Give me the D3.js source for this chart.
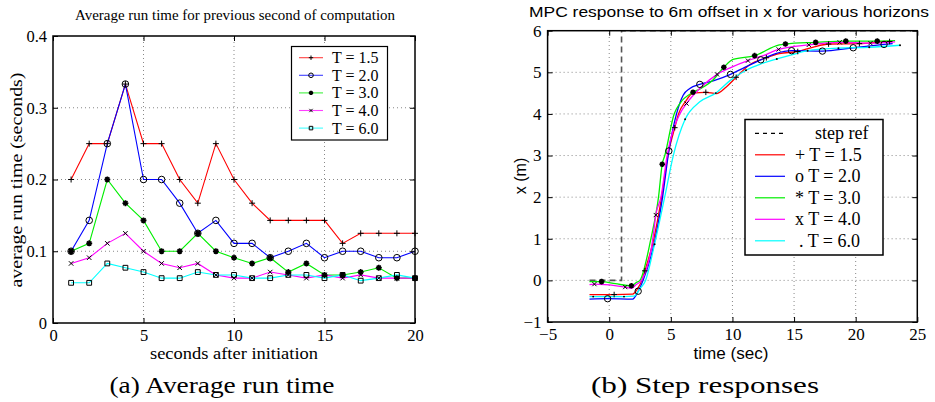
<!DOCTYPE html>
<html><head><meta charset="utf-8">
<script src="https://cdn.jsdelivr.net/npm/d3@7"></script>
<style>body{margin:0;background:#fff}svg{display:block}</style>
</head><body><svg id="c" width="935" height="402"></svg>
<script>
// ---------- Left chart data ----------
const secs = [1,2,3,4,5,6,7,8,9,10,11,12,13,14,15,16,17,18,19,20];
const run15 = [0.2,0.25,0.25,0.333,0.25,0.25,0.2,0.167,0.25,0.2,0.167,0.143,0.143,0.143,0.143,0.111,0.125,0.125,0.125,0.125];
const run20 = [0.1,0.143,0.25,0.333,0.2,0.2,0.167,0.125,0.143,0.111,0.111,0.091,0.1,0.111,0.091,0.1,0.1,0.091,0.091,0.1];
const run30 = [0.1,0.111,0.2,0.167,0.143,0.1,0.1,0.125,0.1,0.091,0.083,0.091,0.071,0.083,0.067,0.067,0.071,0.077,0.0625,0.0625];
const run40 = [0.083,0.091,0.111,0.125,0.1,0.083,0.077,0.083,0.067,0.0625,0.0625,0.071,0.067,0.0625,0.067,0.0625,0.067,0.0625,0.0625,0.0625];
const run60 = [0.056,0.056,0.083,0.077,0.071,0.0625,0.0625,0.071,0.067,0.067,0.0625,0.0625,0.067,0.067,0.0625,0.067,0.059,0.0625,0.067,0.0625];
const leftLabels = ["T = 1.5","T = 2.0","T = 3.0","T = 4.0","T = 6.0"];
const leftXTicks = [0,5,10,15,20];
const leftYTicks = [0,0.1,0.2,0.3,0.4];

// ---------- Right chart data ----------
const refT = [-1.6,1,1,24.5];
const refX = [0,0,6,6];
const t15 = [-1.6,0.4,1.9,2.3,2.65,2.89,3.62,4.25,4.76,5.32,5.62,6.19,6.8,7.84,8.7,9.5,10.3,11.4,12.75,13.8,15.3,16.5,17.8,20.3,22.75,23.0];
const x15 = [-0.34,-0.34,-0.33,-0.2,0,0.23,1.0,2.0,3.0,3.67,4.0,4.3,4.5,4.52,4.49,4.65,4.88,5.18,5.35,5.45,5.5,5.6,5.68,5.69,5.74,5.74];
const t20 = [-1.6,-0.13,1.9,2.35,2.75,3.73,4.33,4.84,5.46,6.0,6.54,7.35,8.5,9.84,11.0,12.3,13.5,14.8,17.3,19.8,22.3,23.0];
const x20 = [-0.45,-0.44,-0.45,-0.26,0,1.0,2.0,3.11,4.0,4.45,4.61,4.71,4.8,4.95,5.12,5.3,5.45,5.52,5.51,5.59,5.67,5.69];
const t30 = [-1.6,-0.62,0.5,1.8,2.2,2.49,3.38,4.0,4.3,4.51,5.27,5.73,6.8,7.35,8.4,9.3,10.05,11.8,13.8,14.3,16.75,19.2,21.75,23.2];
const x30 = [-0.03,-0.03,-0.08,-0.13,-0.05,0,1.0,2.0,2.79,3.0,4.0,4.25,4.52,4.6,4.81,5.12,5.31,5.4,5.66,5.68,5.72,5.75,5.75,5.76];
const t40 = [-1.6,-1.2,1.3,1.8,2.2,2.62,3.54,3.78,4.2,4.7,5.73,6.27,7.35,8.75,9.9,11.26,12.5,13.75,16.2,18.7,21.2,23.2];
const x40 = [-0.1,-0.09,-0.16,-0.19,-0.1,0,1.0,1.57,2.0,3.0,4.0,4.25,4.61,4.95,5.12,5.28,5.4,5.55,5.66,5.72,5.7,5.73];
const t60 = [-1.6,-1.3,1.2,2.0,2.5,2.95,3.68,4.5,5.2,6.16,7.35,8.65,9.8,11.1,12.3,13.6,14.8,16.1,18.6,21.1,23.6];
const x60 = [-0.39,-0.39,-0.39,-0.38,-0.2,0,0.87,2.0,3.0,3.87,4.29,4.5,4.8,5.05,5.2,5.32,5.42,5.52,5.58,5.6,5.65];
// marker positions
const m15t = [0.4,2.89,5.32,7.84,10.3,12.75,15.3,17.8,20.3,22.75];
const m15x = [-0.34,0.23,3.67,4.52,4.88,5.35,5.5,5.68,5.69,5.74];
const m20t = [-0.13,2.35,4.84,7.35,9.84,12.3,14.8,17.3,19.8,22.3];
const m20x = [-0.44,-0.26,3.11,4.71,4.95,5.3,5.52,5.51,5.59,5.67];
const m30t = [-0.62,1.8,4.3,6.8,9.3,11.8,14.3,16.75,19.2,21.75];
const m30x = [-0.03,-0.13,2.79,4.52,5.12,5.4,5.68,5.72,5.75,5.75];
const m40t = [-1.2,1.3,3.78,6.27,8.75,11.26,13.75,16.2,18.7,21.2];
const m40x = [-0.09,-0.16,1.57,4.25,4.95,5.28,5.55,5.66,5.72,5.7];
const m60t = [-1.3,1.2,3.68,6.16,8.65,11.1,13.6,16.1,18.6,21.1,23.6];
const m60x = [-0.39,-0.39,0.87,3.87,4.5,5.05,5.32,5.52,5.58,5.6,5.65];
const rightLabels = ["step ref","+ T = 1.5","o T = 2.0","* T = 3.0","x T = 4.0",". T = 6.0"];
const rightXTicks = [-5,0,5,10,15,20,25];
const rightYTicks = [-1,0,1,2,3,4,5,6];

const colors = ["#ff0000","#0000ff","#00ee00","#ff00ff","#00ffff"];
const markers = ["plus","circle","star","cross","square"];

const svg = d3.select("#c");
const SERIF = "'Liberation Serif','DejaVu Serif',serif";
const SANS = "'Liberation Sans',Arial,sans-serif";

function markerPath(type, s){
  switch(type){
    case "plus": return `M${-s},0H${s}M0,${-s}V${s}`;
    case "cross": return `M${-s*0.75},${-s*0.75}L${s*0.75},${s*0.75}M${-s*0.75},${s*0.75}L${s*0.75},${-s*0.75}`;
    case "circle": return d3.symbol(d3.symbolCircle, Math.PI*s*s)();
    case "square": return `M${-s*0.8},${-s*0.8}h${s*1.6}v${s*1.6}h${-s*1.6}Z`;
    case "star": return `M${-s},0H${s}M0,${-s}V${s}M${-s*0.7},${-s*0.7}L${s*0.7},${s*0.7}M${-s*0.7},${s*0.7}L${s*0.7},${-s*0.7}`;
    case "dot": return d3.symbol(d3.symbolCircle, 3)();
  }
}
function drawMarker(g, type, x, y, s){
  const p = g.append("path").attr("d", markerPath(type, s)).attr("transform",`translate(${x},${y})`)
    .attr("stroke","#000").attr("stroke-width",1);
  if(type==="dot") p.attr("fill","#000").attr("stroke","none");
  else p.attr("fill","none");
  if(type==="star") p.attr("stroke-width",1.6);
}

function frame(g, x, y, xt, yt){
  const [x0,x1] = x.range(), [y0,y1] = y.range();
  const grid = g.append("g").attr("stroke","#888").attr("stroke-width",1).attr("stroke-dasharray","1,3");
  xt.forEach(v=>{ if(x(v)>x0+1 && x(v)<x1-1) grid.append("line").attr("x1",x(v)).attr("x2",x(v)).attr("y1",y0).attr("y2",y1);});
  yt.forEach(v=>{ if(y(v)<y0-1 && y(v)>y1+1) grid.append("line").attr("y1",y(v)).attr("y2",y(v)).attr("x1",x0).attr("x2",x1);});
}
function frameTop(g, x, y, xt, yt, yfmt, tickFont){
  const [x0,x1] = x.range(), [y0,y1] = y.range();
  const ax = d3.axisBottom(x).tickValues(xt).tickSizeInner(-5).tickSizeOuter(0).tickPadding(6).tickFormat(d=>d<0?"\u2212"+Math.abs(d):d);
  const gx = g.append("g").attr("transform",`translate(0,${y0})`).call(ax);
  const axT = d3.axisTop(x).tickValues(xt).tickSizeInner(-5).tickSizeOuter(0).tickFormat("");
  const gxt = g.append("g").attr("transform",`translate(0,${y1})`).call(axT);
  const ay = d3.axisLeft(y).tickValues(yt).tickSizeInner(-5).tickSizeOuter(0).tickPadding(6).tickFormat(yfmt);
  const gy = g.append("g").attr("transform",`translate(${x0},0)`).call(ay);
  const ayR = d3.axisRight(y).tickValues(yt).tickSizeInner(-5).tickSizeOuter(0).tickFormat("");
  const gyr = g.append("g").attr("transform",`translate(${x1},0)`).call(ayR);
  [gx,gxt,gy,gyr].forEach(a=>{ a.select(".domain").remove(); a.selectAll("line").attr("stroke","#000").attr("stroke-width",1);
    a.selectAll("text").attr("font-family",SERIF).attr("font-size",tickFont).attr("fill","#000");});
  g.append("rect").attr("x",x0).attr("y",y1).attr("width",x1-x0).attr("height",y0-y1)
    .attr("fill","none").attr("stroke","#000").attr("stroke-width",1.5);
}

// ================= LEFT =================
{
  const g = svg.append("g");
  const x = d3.scaleLinear().domain([0,20]).range([53,415]);
  const y = d3.scaleLinear().domain([0,0.4]).range([323,36]);
  frame(g,x,y,leftXTicks,leftYTicks);
  const series = [run15,run20,run30,run40,run60];
  const line = d3.line().x((d,i)=>x(secs[i])).y(d=>y(d));
  series.forEach((s,k)=>{
    g.append("path").datum(s).attr("d",line).attr("fill","none").attr("stroke",colors[k]).attr("stroke-width",1.1);
  });
  series.forEach((s,k)=>{
    const sz = markers[k]==="circle"?3.3:3;
    s.forEach((v,i)=>drawMarker(g,markers[k],x(secs[i]),y(v),sz));
  });
  frameTop(g,x,y,leftXTicks,leftYTicks,d=>d===0?"0":d3.format(".1f")(d),"16.5px");
  const lg = g.append("g");
  lg.append("rect").attr("x",291.5).attr("y",46.5).attr("width",96).attr("height",93.5).attr("fill","#fff").attr("stroke","#000").attr("stroke-width",1.2);
  leftLabels.forEach((lab,k)=>{
    const yy = 57.7 + k*17.6;
    lg.append("line").attr("x1",299).attr("x2",323).attr("y1",yy).attr("y2",yy).attr("stroke",colors[k]).attr("stroke-width",1.1).attr("opacity",0.75);
    drawMarker(lg,markers[k],311,yy,markers[k]==="circle"?2.3:2.2);
    lg.append("text").attr("x",332).attr("y",yy+5.5).text(lab).attr("font-family",SERIF).attr("font-size","16px");
  });
  g.append("text").attr("x",235).attr("y",20).attr("text-anchor","middle").attr("font-family",SERIF).attr("font-size","15.5px")
    .attr("textLength",320).attr("lengthAdjust","spacingAndGlyphs").text("Average run time for previous second of computation");
  g.append("text").attr("x",234).attr("y",359).attr("text-anchor","middle").attr("font-family",SERIF).attr("font-size","16px")
    .attr("textLength",168).attr("lengthAdjust","spacingAndGlyphs").text("seconds after initiation");
  g.append("text").attr("transform","translate(22,180) rotate(-90)").attr("text-anchor","middle").attr("font-family",SERIF).attr("font-size","16.5px")
    .attr("textLength",215).attr("lengthAdjust","spacingAndGlyphs").text("average run time (seconds)");
  g.append("text").attr("x",222).attr("y",393).attr("text-anchor","middle").attr("font-family",SERIF).attr("font-size","24px")
    .attr("textLength",225).attr("lengthAdjust","spacingAndGlyphs").text("(a) Average run time");
}

// ================= RIGHT =================
{
  const g = svg.append("g");
  const x = d3.scaleLinear().domain([-5,25]).range([547.6,917.3]);
  const y = d3.scaleLinear().domain([-1,6]).range([322,30.7]);
  frame(g,x,y,rightXTicks,rightYTicks);
  const lineXY = (ts,xs)=>d3.line().curve(d3.curveMonotoneX).x((d,i)=>x(ts[i])).y((d,i)=>y(xs[i]))(xs);
  g.append("path").attr("d",d3.line().x((d,i)=>x(refT[i])).y((d,i)=>y(refX[i]))(refX))
    .attr("fill","none").attr("stroke","#555").attr("stroke-width",1.6).attr("stroke-dasharray","6,4");
  const ts=[t15,t20,t30,t40,t60], xs=[x15,x20,x30,x40,x60];
  const mts=[m15t,m20t,m30t,m40t,m60t], mxs=[m15x,m20x,m30x,m40x,m60x];
  const rmark=["plus","circle","star","cross","dot"];
  ts.forEach((t,k)=>{
    g.append("path").attr("d",lineXY(t,xs[k])).attr("fill","none").attr("stroke",colors[k]).attr("stroke-width",1.3);
  });
  mts.forEach((t,k)=>{
    t.forEach((v,i)=>drawMarker(g,rmark[k],x(v),y(mxs[k][i]),rmark[k]==="circle"?3.2:2.8));
  });
  frameTop(g,x,y,rightXTicks,rightYTicks,d=>d<0?"\u2212"+Math.abs(d):d,"17px");
  const lg = g.append("g");
  lg.append("rect").attr("x",745).attr("y",119.5).attr("width",138).attr("height",135.5).attr("fill","#fff").attr("stroke","#000").attr("stroke-width",1.5);
  rightLabels.forEach((lab,k)=>{
    const yy = 133.3 + k*21.5;
    const ln = lg.append("line").attr("x1",755).attr("x2",785).attr("y1",yy).attr("y2",yy).attr("stroke-width",1.2);
    if(k===0) ln.attr("stroke","#000").attr("stroke-dasharray","4,4");
    else ln.attr("stroke",colors[k-1]);
    lg.append("text").attr("x",k===0?815:(k===5?799:795)).attr("y",yy+6).text(lab).attr("font-family",SERIF).attr("font-size","18px");
  });
  g.append("text").attr("x",729).attr("y",17).attr("text-anchor","middle").attr("font-family",SANS).attr("font-size","15.5px")
    .attr("textLength",400).attr("lengthAdjust","spacingAndGlyphs").text("MPC response to 6m offset in x for various horizons");
  g.append("text").attr("x",731).attr("y",359).attr("text-anchor","middle").attr("font-family",SANS).attr("font-size","16px")
    .attr("textLength",75).attr("lengthAdjust","spacingAndGlyphs").text("time (sec)");
  g.append("text").attr("transform","translate(526,176) rotate(-90)").attr("text-anchor","middle").attr("font-family",SANS).attr("font-size","16px").text("x (m)");
  g.append("text").attr("x",705).attr("y",393).attr("text-anchor","middle").attr("font-family",SERIF).attr("font-size","24px")
    .attr("textLength",228).attr("lengthAdjust","spacingAndGlyphs").text("(b) Step responses");
}
</script></body></html>
